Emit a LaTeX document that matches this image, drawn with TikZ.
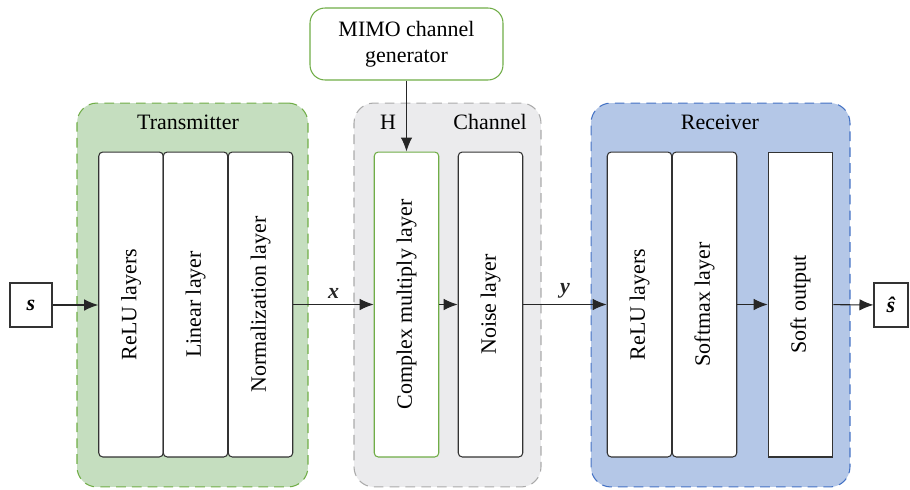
\documentclass[tikz,border=0pt]{standalone}
\usepackage{fontspec}
\setmainfont{Liberation Serif}
\usepackage{graphicx}
\usepackage{tikz}
\usetikzlibrary{arrows.meta}
\definecolor{txgreen}{RGB}{197,222,191}
\definecolor{txedge}{RGB}{112,173,71}
\definecolor{chgray}{RGB}{235,235,237}
\definecolor{chedge}{RGB}{170,170,170}
\definecolor{rxblue}{RGB}{180,199,231}
\definecolor{rxedge}{RGB}{68,114,196}
\begin{document}
\begin{tikzpicture}[x=0.02cm,y=-0.02cm, font=\fontsize{12.5}{15}\selectfont,
  group/.style={rounded corners=0.4cm, dash pattern=on 5.5pt off 3.5pt, line width=0.6pt, minimum height=7.68cm, inner sep=0},
  layer/.style={draw=black!80, fill=white, rounded corners=0.08cm, minimum width=1.29cm, minimum height=6.1cm, inner sep=0, line width=0.6pt},
  io/.style={draw=black!80, fill=white, minimum height=0.88cm, inner sep=0, line width=0.6pt, font=\fontsize{12.5}{15}\selectfont\bfseries\itshape},
  link/.style={-{Latex[length=2.8mm,width=2.3mm]}, line width=0.6pt, black!85}]
\useasboundingbox (0,0) rectangle (910,490);

% groups
\node[group, draw=txedge, fill=txgreen, minimum width=4.62cm] (tx) at (192.5,295) {};
\node[group, draw=chedge, fill=chgray, minimum width=3.74cm] (ch) at (447.5,295) {};
\node[group, draw=rxedge, fill=rxblue, minimum width=5.18cm] (rx) at (720.5,295) {};
\node (txname) at (188,122) {Transmitter};
\node (hname) at (388,122) {H};
\node (chname) at (490,122) {Channel};
\node (rxname) at (720,122) {Receiver};

% layers
\node[layer] (t1) at (131,304.5) {\rotatebox{90}{ReLU layers}};
\node[layer] (t2) at (195.5,304.5) {\rotatebox{90}{Linear layer}};
\node[layer] (t3) at (260.5,304.5) {\rotatebox{90}{Normalization layer}};
\node[layer, draw=txedge] (cm) at (406.5,304.5) {\rotatebox{90}{Complex multiply layer}};
\node[layer] (nz) at (490.5,304.5) {\rotatebox{90}{Noise layer}};
\node[layer] (r1) at (639.5,304.5) {\rotatebox{90}{ReLU layers}};
\node[layer] (r2) at (704.5,304.5) {\rotatebox{90}{Softmax layer}};
\node[layer, sharp corners] (so) at (800.5,304.5) {\rotatebox{90}{Soft output}};

\node[draw=txedge, fill=white, rounded corners=0.3cm, minimum width=3.86cm, minimum height=1.44cm, align=center, line width=0.6pt] (gen) at (406.5,44) {MIMO channel\\generator};

\node[io, minimum width=0.84cm] (s) at (31,305) {s};
\node[io, minimum width=0.68cm] (shat) at (891,305) {ŝ};

% links
\draw[link] (s) -- (s -| t1.west);
\draw[link] (t3) -- node[above, font=\fontsize{12.5}{15}\selectfont\bfseries\itshape]{x} (cm);
\draw[link] (cm) -- (nz);
\draw[link] (nz) -- node[above, font=\fontsize{12.5}{15}\selectfont\bfseries\itshape]{y} (r1);
\draw[link] (r2) -- (so);
\draw[link] (so) -- (shat);
\draw[link] (gen) -- (cm);
\end{tikzpicture}
\end{document}
